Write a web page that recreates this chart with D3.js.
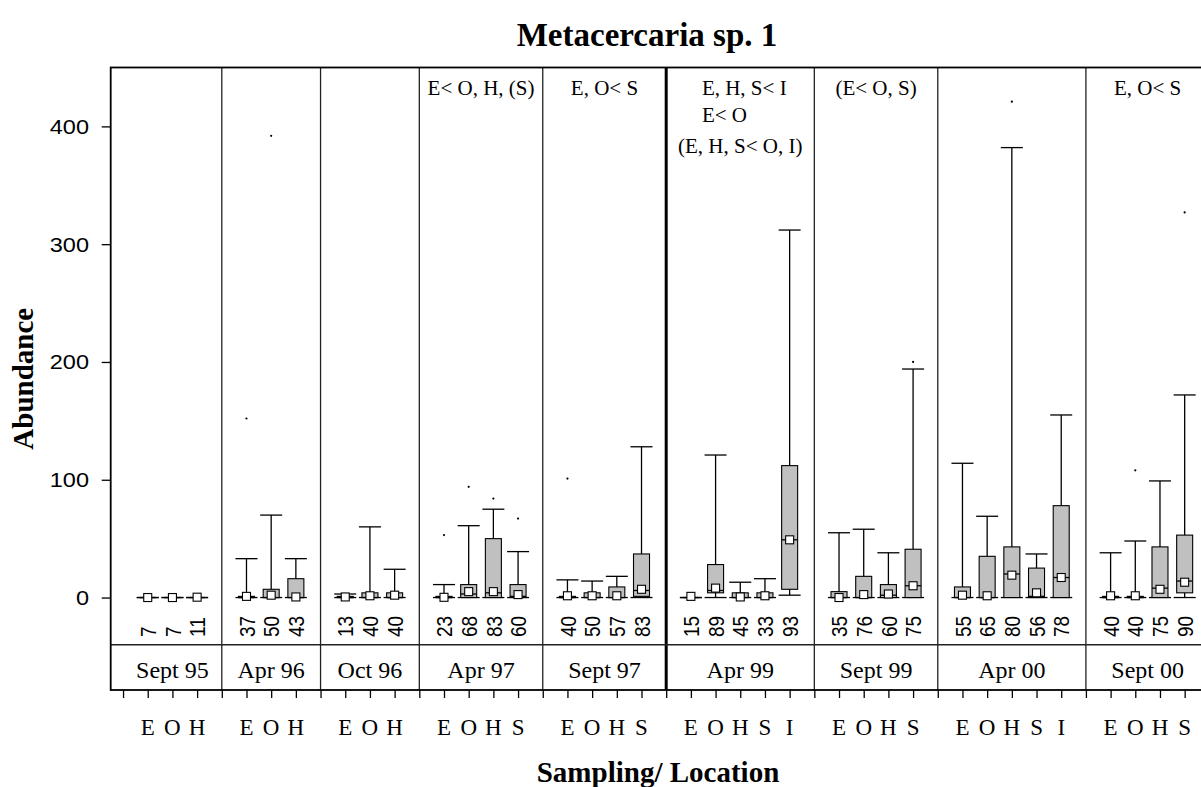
<!DOCTYPE html>
<html>
<head>
<meta charset="utf-8">
<script src="https://cdn.jsdelivr.net/npm/d3@7"></script>
<style>
  body { margin: 0; background: #fff; }
  svg { display: block; }
</style>
</head>
<body>
<svg id="chart" width="1201" height="787"></svg>
<script>
// Sampling occasions and the locations sampled on each occasion
const samplings = ["Sept 95", "Apr 96", "Oct 96", "Apr 97", "Sept 97", "Apr 99", "Sept 99", "Apr 00", "Sept 00"];
const locations = [
  ["E", "O", "H"], ["E", "O", "H"], ["E", "O", "H"],
  ["E", "O", "H", "S"], ["E", "O", "H", "S"], ["E", "O", "H", "S", "I"],
  ["E", "O", "H", "S"], ["E", "O", "H", "S", "I"], ["E", "O", "H", "S"]
];
// Number of hosts examined per location
const counts = [
  [7, 7, 11], [37, 50, 43], [13, 40, 40],
  [23, 68, 83, 60], [40, 50, 57, 83], [15, 89, 45, 33, 93],
  [35, 76, 60, 75], [55, 65, 80, 56, 78], [40, 40, 75, 90]
];
// Box plot statistics of abundance
const whiskerLow = [
  [0, 0, 0], [0, 0, 0], [0, 0, 0],
  [0, 0, 0, 0], [0, 0, 0, 0], [0, 0, 0, 0, 2],
  [0, 0, 0, 0], [0, 0, 0, 0, 0], [0, 0, 0, 0]
];
const quartile1 = [
  [0, 0, 0], [0, 0, 0], [0, 0, 0],
  [0, 0, 0, 0], [0, 0, 0, 1], [0, 4, 0, 0, 7],
  [0, 0, 0, 0], [0, 0, 0, 0, 0], [0, 0, 0, 4]
];
const medians = [
  [0, 0, 0], [0, 0, 0], [0, 0, 0],
  [0, 3, 4, 1], [0, 0, 0, 6], [0, 6, 0, 0, 49],
  [0, 0, 2, 10], [0, 0, 20, 1, 17], [0, 0, 8, 14]
];
const quartile3 = [
  [0, 0, 0], [1, 7, 16], [1, 4, 4],
  [1, 11, 50, 11], [1, 4, 9, 37], [0, 28, 4, 4, 112],
  [5, 18, 11, 41], [9, 35, 43, 25, 78], [1, 1, 43, 53]
];
const whiskerHigh = [
  [0, 0, 0], [33, 70, 33], [3, 60, 24],
  [11, 61, 75, 39], [15, 14, 18, 128], [0, 121, 13, 16, 312],
  [55, 58, 38, 194], [114, 69, 382, 37, 155], [38, 48, 99, 172]
];
const means = [
  [0, 0, 0.3], [1, 2, 0.5], [0.5, 1.5, 2],
  [0.2, 5, 5, 2.5], [1.5, 1.5, 1.5, 7], [1, 8, 0.5, 1.5, 49],
  [0, 2.5, 3, 10], [2, 1.5, 19, 4, 17], [1.5, 1.5, 7, 13]
];
const outliers = [
  [[], [], []], [[152], [392], []], [[], [], []],
  [[53], [94], [84], [67]], [[101], [], [], []], [[], [], [], [], []],
  [[], [], [], [200]], [[], [], [421], [], []], [[], [108], [], [327]]
];
// Significant differences between locations, per sampling
const contrasts = [
  [], [], [], ["E< O, H, (S)"], ["E, O< S"],
  ["E, H, S< I", "E< O", "(E, H, S< O, I)"],
  ["(E< O, S)"], [], ["E, O< S"]
];
const yTicks = [0, 100, 200, 300, 400];

const serif = "'Liberation Serif', 'Times New Roman', serif";
const sans = "'Liberation Sans', Arial, sans-serif";

// Lay the boxes out on a continuous index, one empty slot between samplings
const boxes = [];
const panels = [];
let slot = 0;
samplings.forEach((s, g) => {
  const start = slot;
  locations[g].forEach((loc, i) => {
    boxes.push({
      g, loc, pos: slot, n: counts[g][i],
      lo: whiskerLow[g][i], q1: quartile1[g][i], med: medians[g][i],
      q3: quartile3[g][i], hi: whiskerHigh[g][i], mean: means[g][i],
      out: outliers[g][i]
    });
    slot += 1;
  });
  panels.push({ label: s, first: start, last: slot - 1, notes: contrasts[g] });
  slot += 1;
});

const x = d3.scaleLinear().domain([-1.5, 43.5]).range([110.7, 1221.7]);
const y = d3.scaleLinear().domain([-78.5, 450]).range([690, 67.5]);

const svg = d3.select("#chart");
const frameLeft = x(-1.5), frameRight = x(43.5), frameTop = y(450), frameBottom = y(-78.5);
const stripTop = y(-40);

// Title and axis titles
svg.append("text")
  .attr("x", 647).attr("y", 46)
  .attr("text-anchor", "middle")
  .style("font-family", serif).style("font-weight", "bold").style("font-size", "33px")
  .text("Metacercaria sp. 1");

svg.append("text")
  .attr("transform", `translate(33,${(frameTop + frameBottom) / 2}) rotate(-90)`)
  .attr("text-anchor", "middle")
  .style("font-family", serif).style("font-weight", "bold").style("font-size", "29px")
  .text("Abundance");

svg.append("text")
  .attr("x", 658).attr("y", 782)
  .attr("text-anchor", "middle")
  .style("font-family", serif).style("font-weight", "bold").style("font-size", "29px")
  .text("Sampling/ Location");

// Y axis ticks and labels
const yAxis = svg.append("g").attr("transform", `translate(${frameLeft},0)`)
  .call(d3.axisLeft(y).tickValues(yTicks).tickSize(9).tickFormat(""));
yAxis.select(".domain").remove();
yAxis.selectAll(".tick line").attr("stroke", "#000").attr("stroke-width", 1.3);
svg.append("g").selectAll("text").data(yTicks).join("text")
  .attr("transform", d => `translate(89,${y(d) + 7.5}) scale(1.12,1)`)
  .attr("text-anchor", "end")
  .style("font-family", sans).style("font-size", "21px")
  .text(d => d);

// X axis ticks below the frame
const xAxis = svg.append("g").attr("transform", `translate(0,${frameBottom})`)
  .call(d3.axisBottom(x).tickValues(d3.range(-1, 44)).tickSize(8).tickFormat(""));
xAxis.select(".domain").remove();
xAxis.selectAll(".tick line").attr("stroke", "#000").attr("stroke-width", 1.3);

// Location letters under each tick
svg.append("g").selectAll("text").data(boxes).join("text")
  .attr("x", d => x(d.pos)).attr("y", 735)
  .attr("text-anchor", "middle")
  .style("font-family", serif).style("font-size", "23px")
  .text(d => d.loc);

// Panel separators
const sepPositions = panels.slice(1).map(p => p.first - 1);
svg.append("g").selectAll("line").data(sepPositions).join("line")
  .attr("x1", d => x(d)).attr("x2", d => x(d))
  .attr("y1", frameTop).attr("y2", frameBottom)
  .attr("stroke", d => d === 21 ? "#000" : "#222")
  .attr("stroke-width", d => d === 21 ? 3 : 1.3);

// Strip with sampling labels
svg.append("line")
  .attr("x1", frameLeft).attr("x2", frameRight).attr("y1", stripTop).attr("y2", stripTop)
  .attr("stroke", "#222").attr("stroke-width", 1.5);
svg.append("g").selectAll("text").data(panels).join("text")
  .attr("x", d => x((d.first + d.last) / 2)).attr("y", 678)
  .attr("text-anchor", "middle")
  .style("font-family", serif).style("font-size", "24px")
  .text(d => d.label);

// Frame
svg.append("rect")
  .attr("x", frameLeft).attr("y", frameTop)
  .attr("width", frameRight - frameLeft).attr("height", frameBottom - frameTop)
  .attr("fill", "none").attr("stroke", "#000").attr("stroke-width", 1.8);

// Contrast annotations above each panel
panels.forEach(p => {
  if (!p.notes.length) return;
  const cx = x((p.first + p.last) / 2);
  if (p.notes.length === 1) {
    svg.append("text").attr("x", cx).attr("y", 95)
      .attr("text-anchor", "middle")
      .style("font-family", serif).style("font-size", "21px")
      .text(p.notes[0]);
  } else {
    const first = svg.append("text").attr("x", cx + 4).attr("y", 95)
      .attr("text-anchor", "middle")
      .style("font-family", serif).style("font-size", "21px")
      .text(p.notes[0]);
    const lx = cx + 4 - first.node().getComputedTextLength() / 2;
    svg.append("text").attr("x", lx).attr("y", 122)
      .style("font-family", serif).style("font-size", "21px")
      .text(p.notes[1]);
    svg.append("text").attr("x", cx).attr("y", 153)
      .attr("text-anchor", "middle")
      .style("font-family", serif).style("font-size", "21px")
      .text(p.notes[2]);
  }
});

// Box plots
const boxW = 16, capW = 22, sq = 8;
const bg = svg.append("g").selectAll("g").data(boxes).join("g");
bg.each(function (d) {
  const g = d3.select(this);
  const cx = x(d.pos);
  // upper whisker
  g.append("line").attr("x1", cx).attr("x2", cx).attr("y1", y(d.q3)).attr("y2", y(d.hi))
    .attr("stroke", "#000").attr("stroke-width", 1.3);
  g.append("line").attr("x1", cx - capW / 2).attr("x2", cx + capW / 2).attr("y1", y(d.hi)).attr("y2", y(d.hi))
    .attr("stroke", "#000").attr("stroke-width", 1.3);
  // lower whisker
  g.append("line").attr("x1", cx).attr("x2", cx).attr("y1", y(d.lo)).attr("y2", y(d.q1))
    .attr("stroke", "#000").attr("stroke-width", 1.3);
  g.append("line").attr("x1", cx - capW / 2).attr("x2", cx + capW / 2).attr("y1", y(d.lo)).attr("y2", y(d.lo))
    .attr("stroke", "#000").attr("stroke-width", 1.3);
  // interquartile box
  g.append("rect").attr("x", cx - boxW / 2).attr("width", boxW)
    .attr("y", y(d.q3)).attr("height", y(d.q1) - y(d.q3))
    .attr("fill", "#c0c0c0").attr("stroke", "#000").attr("stroke-width", 1.1);
  // median
  g.append("line").attr("x1", cx - boxW / 2).attr("x2", cx + boxW / 2).attr("y1", y(d.med)).attr("y2", y(d.med))
    .attr("stroke", "#000").attr("stroke-width", 1.3);
  // mean
  g.append("rect").attr("x", cx - sq / 2).attr("y", y(d.mean) - sq / 2)
    .attr("width", sq).attr("height", sq)
    .attr("fill", "#fff").attr("stroke", "#000").attr("stroke-width", 1.1);
  // outliers
  g.selectAll("circle").data(d.out).join("circle")
    .attr("cx", cx).attr("cy", v => y(v)).attr("r", 1.1).attr("fill", "#000");
  // sample size, written upward
  g.append("text")
    .attr("transform", `translate(${cx + 8.2},637) rotate(-90) scale(1,1.2)`)
    .style("font-family", sans).style("font-size", "19px")
    .text(d.n);
});
</script>
</body>
</html>
